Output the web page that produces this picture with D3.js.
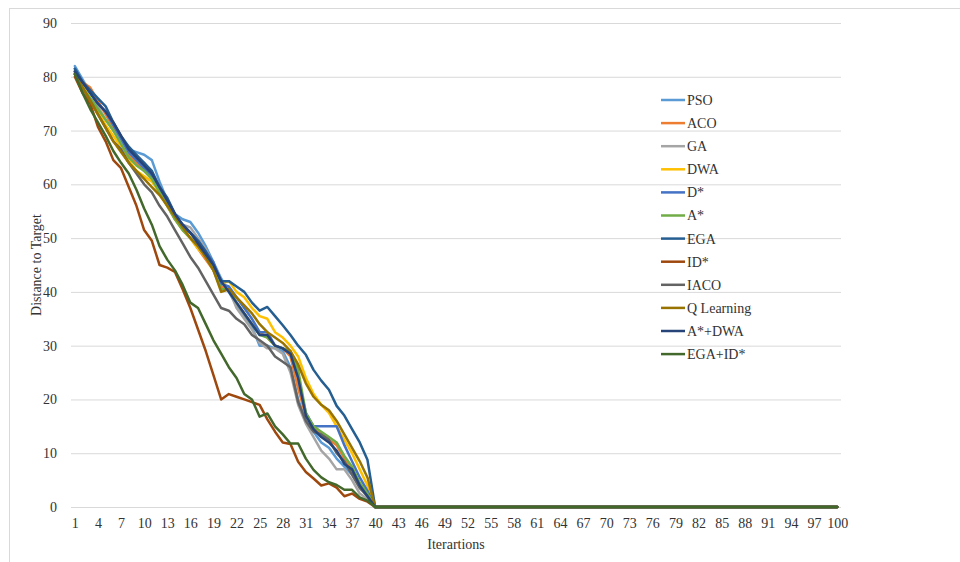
<!DOCTYPE html>
<html>
<head>
<meta charset="utf-8">
<script src="https://cdn.jsdelivr.net/npm/d3@7"></script>
<style>
  body { margin: 0; background: #fff; }
  svg { display: block; }
</style>
</head>
<body>
<script>
// Width and height
let w = 960;
let h = 562;

// iterations 1..100
let iterations = d3.range(1, 101);
let yTicks = [0, 10, 20, 30, 40, 50, 60, 70, 80, 90];
let names = ["PSO", "ACO", "GA", "DWA", "D*", "A*", "EGA", "ID*", "IACO", "Q Learning", "A*+DWA", "EGA+ID*"];
let colors = ["#5B9BD5", "#ED7D31", "#A5A5A5", "#FFC000", "#4472C4", "#70AD47",
              "#255E91", "#9E480E", "#636363", "#997300", "#264478", "#43682B"];

// every series reaches the target at iteration 40 and stays there
let afterGoal = [0,0,0,0,0,0,0,0,0,0, 0,0,0,0,0,0,0,0,0,0, 0,0,0,0,0,0,0,0,0,0,
                 0,0,0,0,0,0,0,0,0,0, 0,0,0,0,0,0,0,0,0,0, 0,0,0,0,0,0,0,0,0,0];

// iterations 1..40
let pso = [82, 79.5, 77, 75, 73.5, 71, 68.5, 66.5, 66, 65.5, 64.5, 60.5, 57, 54.5, 53.5, 53, 51, 48.5, 45.5, 42.5,
           40, 37.5, 35.5, 33.5, 30, 30, 29.5, 29, 26, 20, 16, 14, 12, 11, 9, 7.5, 6, 4, 2, 0];
let aco = [81, 79, 78, 75.5, 73, 70.5, 68, 65.5, 64, 62.5, 61, 58.5, 56, 53.5, 51.5, 50, 48, 46, 44, 41,
           40.5, 38, 36, 34, 32.5, 31.5, 30, 29.5, 28, 22, 17, 15, 13.5, 12.5, 11.5, 9, 7, 4, 2, 0];
let ga = [81, 78, 76, 74.5, 72, 70, 68, 66, 65, 64, 62, 59, 56.5, 54, 52.5, 52, 50, 48, 45, 42,
          40.5, 37, 35, 33, 30.5, 29.5, 29.5, 28.5, 25, 19, 15.5, 13, 10.5, 9, 7, 7, 5, 2.5, 1.5, 0];
let dwa = [81, 78.5, 76, 73.5, 71, 69, 67, 64.5, 62.5, 61.5, 60.5, 58.5, 56, 54, 52, 50, 48, 46.5, 44.5, 41.5,
           42, 40, 39, 37, 35.5, 35, 32.5, 31.5, 30, 28, 24, 21, 19, 17.5, 15, 12.5, 10, 7, 4, 0];
let dstar = [81.5, 79, 77, 75, 73.5, 71, 68.5, 66, 64.5, 63, 61.5, 59, 56.5, 54, 52, 51, 49.5, 47.5, 45.5, 41.5,
             41, 39, 37, 35, 32.5, 32.5, 30, 29.5, 28.5, 24, 17.5, 15, 15, 15, 15, 11.5, 8.5, 5.5, 3, 0];
let astar = [80.5, 78, 76, 74, 72, 70, 67.5, 65, 63.5, 62.5, 61, 58.5, 56, 53.5, 51.5, 50, 48.5, 46.5, 44, 40.5,
             40.5, 38, 36, 34, 32, 31.5, 30, 29.5, 29, 25.5, 17.5, 15, 14, 13, 12, 9.5, 7.5, 4.5, 2.5, 0];
let ega = [81.5, 79, 77.5, 76, 74.5, 71.5, 69, 67, 65.5, 64, 62.5, 59.5, 57.5, 54.5, 52.5, 51, 49.5, 47.5, 45, 42,
           42, 41, 40, 38, 36.5, 37.2, 35.5, 33.8, 32, 30, 28.3, 25.5, 23.5, 21.8, 18.8, 17, 14.5, 12, 8.8, 0];
let idstar = [80, 77, 75, 70.7, 68, 64.5, 63, 59.5, 56, 51.5, 49.5, 45, 44.5, 43.7, 40.5, 37, 33, 29, 24.5, 20,
              21, 20.5, 20, 19.5, 19, 16.3, 14, 12, 11.7, 8.4, 6.5, 5.3, 4, 4.4, 3.6, 2, 2.5, 1.5, 1, 0];
let iaco = [80.5, 78, 75.5, 73, 70.5, 68, 66.5, 64, 62, 60, 58.5, 56, 54, 51.5, 49, 46.5, 44.5, 42, 39.5, 37,
            36.5, 35, 34, 32, 31, 30, 28, 27, 26, 19.5, 16, 14, 13.5, 12.5, 10, 8.5, 6, 3.5, 2, 0];
let qLearning = [80.5, 78, 75.5, 73, 70.5, 68, 66, 64, 62.5, 61, 59.5, 58, 56, 54, 52, 50, 48.5, 46.5, 44, 40,
                 40.5, 39, 37.5, 36, 34, 32.5, 31.5, 30.5, 29, 26.5, 23, 20.5, 19, 18, 16, 13.5, 11, 8.5, 5.5, 0];
let astarDwa = [81, 79, 77, 75, 73.5, 71.5, 69, 66.5, 65, 63.5, 62, 59.5, 57, 54.5, 52.5, 51, 49, 47, 45, 42,
                40, 38, 36, 34, 32, 32, 30, 29.5, 28.5, 24, 17, 14.5, 13, 12, 10.5, 8, 7, 4, 2, 0];
let egaIdstar = [80.5, 77, 74, 71.5, 69, 66.2, 64, 62, 59, 55.5, 52.5, 48.5, 46, 44, 41.3, 38, 37, 34, 31, 28.5,
                 26, 24, 21, 20, 16.8, 17.4, 15, 13.5, 11.8, 11.8, 9, 6.9, 5.5, 4.6, 4.1, 3.2, 3.2, 1.8, 1.2, 0];

let seriesValues = [pso, aco, ga, dwa, dstar, astar, ega, idstar, iaco, qLearning, astarDwa, egaIdstar];

let series = names.map((name, k) => ({
  name: name,
  color: colors[k],
  values: seriesValues[k].concat(afterGoal)
}));

let plotLeft = 71, plotRight = 841, plotTop = 23, plotBottom = 507;
let font = "Liberation Serif, serif";
let textColor = "#333";

let xScale = d3.scalePoint()
  .domain(iterations)
  .range([plotLeft, plotRight])
  .padding(0.5);

let yScale = d3.scaleLinear()
  .domain([0, 90])
  .range([plotBottom, plotTop]);

let svg = d3.select("body").append("svg").attr("width", w).attr("height", h);

// chart border
svg.append("rect")
  .attr("x", 9.5).attr("y", 8.5)
  .attr("width", 1000).attr("height", 600)
  .attr("fill", "none")
  .attr("stroke", "#d9d9d9");

// gridlines + y labels
let yAxis = d3.axisLeft(yScale)
  .tickValues(yTicks)
  .tickSize(-(plotRight - plotLeft))
  .tickPadding(14);

let gy = svg.append("g")
  .attr("transform", "translate(" + plotLeft + ",0)")
  .call(yAxis);
gy.select(".domain").remove();
gy.selectAll(".tick line").attr("stroke", "#d9d9d9").attr("stroke-width", 1);
gy.selectAll(".tick text")
  .attr("font-family", font)
  .attr("font-size", "14px")
  .attr("fill", textColor);

// x axis
let xAxis = d3.axisBottom(xScale)
  .tickValues(iterations.filter((d) => (d - 1) % 3 === 0))
  .tickSize(0)
  .tickPadding(11);

let gx = svg.append("g")
  .attr("transform", "translate(0," + plotBottom + ")")
  .call(xAxis);
gx.select(".domain").attr("stroke", "#d9d9d9").attr("d", "M" + plotLeft + ",0.5H" + plotRight);
gx.selectAll(".tick text")
  .attr("font-family", font)
  .attr("font-size", "14px")
  .attr("fill", textColor);

// lines
let line = d3.line()
  .x((d, i) => xScale(iterations[i]))
  .y((d) => yScale(d));

svg.append("g")
  .selectAll("path")
  .data(series)
  .enter()
  .append("path")
  .attr("d", (d) => line(d.values))
  .attr("fill", "none")
  .attr("stroke", (d) => d.color)
  .attr("stroke-width", 2.5)
  .attr("stroke-linejoin", "round")
  .attr("stroke-linecap", "round");

// legend
let legend = svg.append("g")
  .selectAll("g")
  .data(series)
  .enter()
  .append("g")
  .attr("transform", (d, i) => "translate(661," + (100 + i * 23.1) + ")");

legend.append("line")
  .attr("x1", 0).attr("x2", 24)
  .attr("stroke", (d) => d.color)
  .attr("stroke-width", 2.5);

legend.append("text")
  .text((d) => d.name)
  .attr("x", 26)
  .attr("dy", "0.35em")
  .attr("font-family", font)
  .attr("font-size", "14px")
  .attr("fill", textColor);

// axis titles
svg.append("text")
  .text("Distance to Target")
  .attr("transform", "translate(36," + ((plotTop + plotBottom) / 2) + ") rotate(-90)")
  .attr("text-anchor", "middle")
  .attr("dy", "0.35em")
  .attr("font-family", font)
  .attr("font-size", "14px")
  .attr("fill", textColor);

svg.append("text")
  .text("Iterartions")
  .attr("x", (plotLeft + plotRight) / 2)
  .attr("y", 544)
  .attr("text-anchor", "middle")
  .attr("dy", "0.35em")
  .attr("font-family", font)
  .attr("font-size", "14px")
  .attr("fill", textColor);
</script>
</body>
</html>
